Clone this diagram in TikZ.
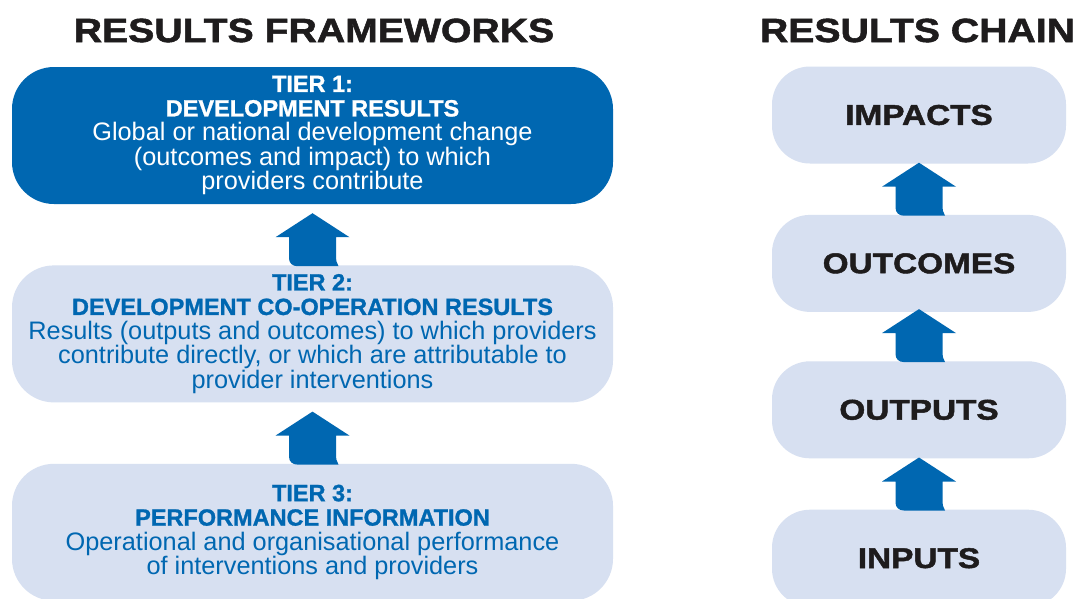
\documentclass[tikz,border=0pt]{standalone}
\usepackage{fontspec}
\setmainfont{Liberation Sans}
\newfontfamily\heavyfont[FakeStretch=1.17,FakeBold=1.6]{Liberation Sans}
\newfontfamily\headfont[FakeBold=1.1]{Liberation Sans}
\usetikzlibrary{
  positioning,
  calc
}
\definecolor{tierblue}{RGB}{0,103,177}
\definecolor{paleblue}{RGB}{215,224,241}
\definecolor{inkblack}{RGB}{30,28,29}
\newcommand{\tierhead}[1]{{\headfont\bfseries\fontsize{23.5}{24.5}\selectfont #1}}
\tikzset{
  tierbox/.style={rounded corners=42pt,minimum width=601pt,minimum height=137pt,
    inner sep=0pt,align=center,font=\fontsize{25.3}{24.5}\selectfont},
  darktier/.style={tierbox,fill=tierblue,text=white},
  palettier/.style={tierbox,fill=paleblue,text=tierblue},
  chainbox/.style={rounded corners=38pt,fill=paleblue,minimum width=294pt,
    minimum height=97pt,inner sep=0pt,text=inkblack,
    font=\heavyfont\bfseries\fontsize{28.5}{28.5}\selectfont},
  heading/.style={anchor=base,text=inkblack,
    font=\heavyfont\bfseries\fontsize{33.5}{33.5}\selectfont},
  % block arrow, tail sits on the top edge of the lower box
  liftarrow/.pic={
    \fill[tierblue] (-23.5,-28) -- (-23.5,-7)
      .. controls (-23.5,-2) and (-20,1) .. (-15,1)
      -- (26,1) .. controls (24,-2) and (23.5,-5) .. (23.5,-10)
      -- (23.5,-28) -- (37,-28) -- (0,-52) -- (-37,-28) -- cycle;
  }
}

\begin{document}
\begin{tikzpicture}[x=1pt,y=-1pt]
  \clip (0,0) rectangle (1078,598);
  \fill[white] (0,0) rectangle (1078,598);

  % left: the three tiers
  \node[heading] (fwtitle) at (314,42) {RESULTS FRAMEWORKS};
  \node[darktier] (tierone) at (312.5,135.5)
    {\tierhead{TIER 1:}\\\tierhead{DEVELOPMENT RESULTS}\\
     Global or national development change\\
     (outcomes and impact) to which\\
     providers contribute};
  \node[palettier,below=61pt of tierone] (tiertwo)
    {\tierhead{TIER 2:}\\\tierhead{DEVELOPMENT CO-OPERATION RESULTS}\\
     Results (outputs and outcomes) to which providers\\
     contribute directly, or which are attributable to\\
     provider interventions};
  \node[palettier,below=61pt of tiertwo] (tierthree)
    {\tierhead{TIER 3:}\\\tierhead{PERFORMANCE INFORMATION}\\
     Operational and organisational performance\\
     of interventions and providers};

  % right: the chain
  \node[heading] (chaintitle) at (917.5,42) {RESULTS CHAIN};
  \node[chainbox] (impacts) at (919,115) {IMPACTS};
  \node[chainbox,below=51pt of impacts] (outcomes) {OUTCOMES};
  \node[chainbox,below=49pt of outcomes] (outputs) {OUTPUTS};
  \node[chainbox,below=51pt of outputs] (inputs) {INPUTS};

  % arrows
  \pic at (tiertwo.north) {liftarrow};
  \pic at (tierthree.north) {liftarrow};
  \pic at (outcomes.north) {liftarrow};
  \pic at (outputs.north) {liftarrow};
  \pic at (inputs.north) {liftarrow};
\end{tikzpicture}
\end{document}
